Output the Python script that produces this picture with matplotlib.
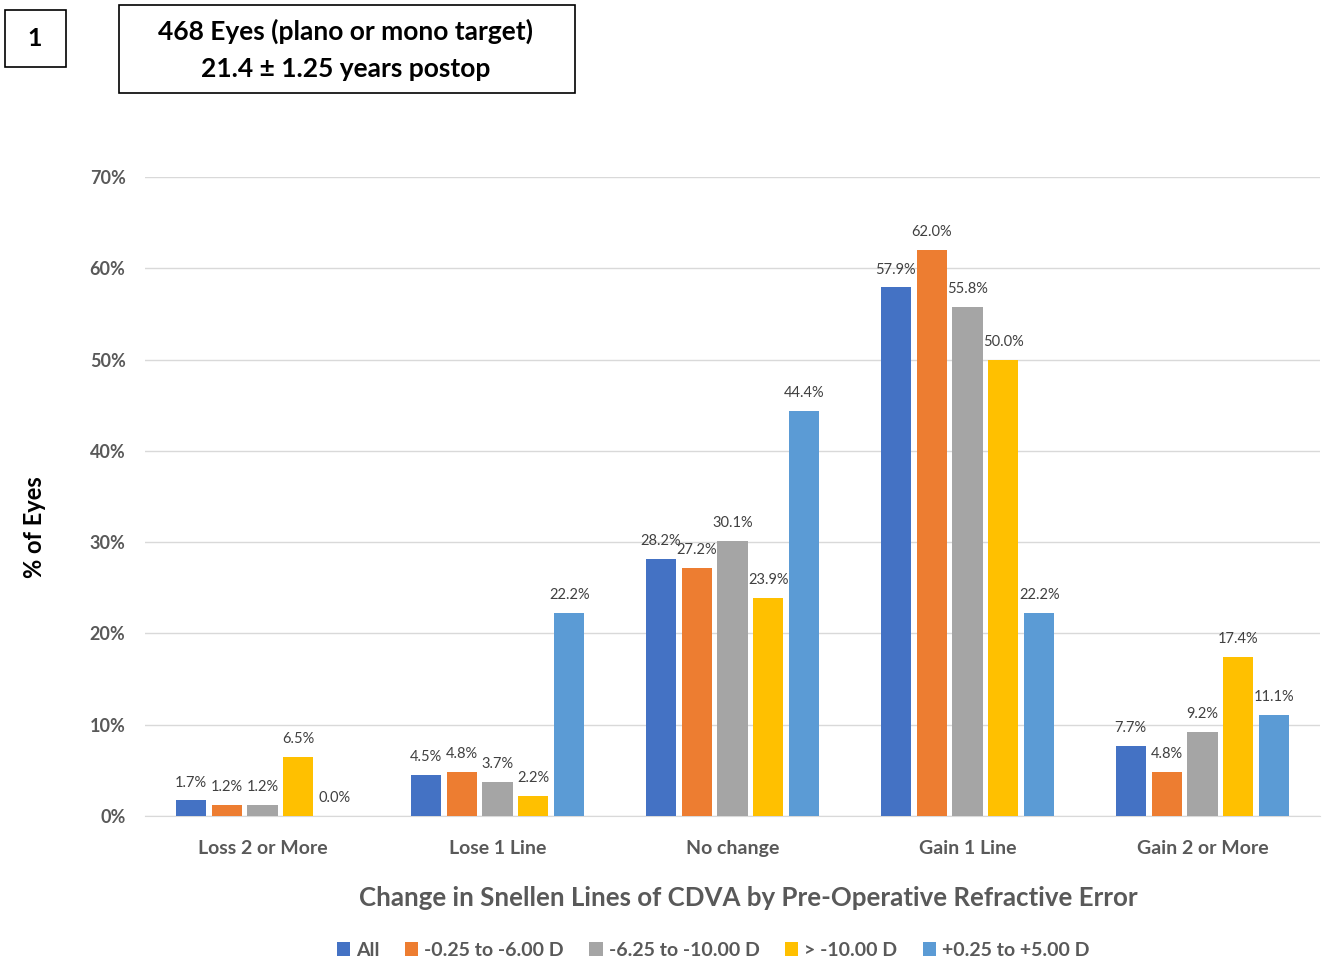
import matplotlib
matplotlib.use("Agg")
import matplotlib.pyplot as plt
from matplotlib.patches import Rectangle
import numpy as np

categories = ["Loss 2 or More", "Lose 1 Line", "No change", "Gain 1 Line", "Gain 2 or More"]
series_names = ["All", "-0.25 to -6.00 D", "-6.25 to -10.00 D", "> -10.00 D", "+0.25 to +5.00 D"]
all_vals = [1.7, 4.5, 28.2, 57.9, 7.7]
myope_low = [1.2, 4.8, 27.2, 62.0, 4.8]
myope_mid = [1.2, 3.7, 30.1, 55.8, 9.2]
myope_high = [6.5, 2.2, 23.9, 50.0, 17.4]
hyperope = [0.0, 22.2, 44.4, 22.2, 11.1]
yticks = [0, 10, 20, 30, 40, 50, 60, 70]
colors = ["#4472C4", "#ED7D31", "#A5A5A5", "#FFC000", "#5B9BD5"]

series = [all_vals, myope_low, myope_mid, myope_high, hyperope]

plt.rcParams['font.family'] = ['Lato', 'DejaVu Sans']

fig = plt.figure(figsize=(13.25, 9.63), dpi=100)
ax = fig.add_axes([145/1325, 1 - 816/963, 1175/1325, (816-177)/963])

x = np.arange(len(categories))
pitch = 0.153
width = 0.128
for i, (vals, c, name) in enumerate(zip(series, colors, series_names)):
    xs = x + (i - 2) * pitch
    ax.bar(xs, vals, width=width, color=c, label=name, zorder=3)
    for xi, v in zip(xs, vals):
        ax.text(xi, v + 1.2, f"{v:.1f}%", ha="center", va="bottom",
                fontsize=10.5, color="#404040", zorder=4)

ax.set_xlim(-0.5, 4.5)
ax.set_ylim(0, 70)
ax.set_yticks(yticks)
ax.set_yticklabels([f"{t}%" for t in yticks], fontsize=13, fontweight="bold", color="#595959")
ax.set_xticks(x)
ax.set_xticklabels(categories, fontsize=14, fontweight="bold", color="#595959")
ax.tick_params(axis="both", length=0)
ax.tick_params(axis="y", pad=14)
ax.tick_params(axis="x", pad=17)
ax.grid(axis="y", color="#D9D9D9", linewidth=1, zorder=0)
for s in ["top", "right", "left"]:
    ax.spines[s].set_visible(False)
ax.spines["bottom"].set_color("#D9D9D9")

fig.text(748/1325, 1 - 898/963, "Change in Snellen Lines of CDVA by Pre-Operative Refractive Error",
         ha="center", va="center", fontsize=18.6, fontweight="bold", color="#595959")
fig.text(35/1325, 1 - 527/963, "% of Eyes", ha="center", va="center", rotation=90,
         fontsize=17, fontweight="bold", color="black")

leg = fig.legend(loc="center", bbox_to_anchor=(713/1325, 1 - 950/963), ncol=5, frameon=False,
                 handlelength=0.7, handleheight=0.7, handletextpad=0.3, columnspacing=1.3,
                 prop={"size": 14, "weight": "bold"})
for t in leg.get_texts():
    t.set_color("#595959")

# boxes
fig.patches.append(Rectangle((5/1325, 1 - 67/963), 61/1325, 57/963, transform=fig.transFigure,
                             fill=False, edgecolor="black", linewidth=1.2))
fig.text(35/1325, 1 - 39/963, "1", ha="center", va="center", fontsize=18, fontweight="bold")
fig.patches.append(Rectangle((119/1325, 1 - 93/963), 456/1325, 88/963, transform=fig.transFigure,
                             fill=False, edgecolor="black", linewidth=1.2))
fig.text(346/1325, 1 - 31/963, "468 Eyes (plano or mono target)", ha="center", va="center",
         fontsize=19, fontweight="bold")
fig.text(346/1325, 1 - 69/963, "21.4 \u00b1 1.25 years postop", ha="center", va="center",
         fontsize=19, fontweight="bold")

fig.savefig("out.png", dpi=100)
